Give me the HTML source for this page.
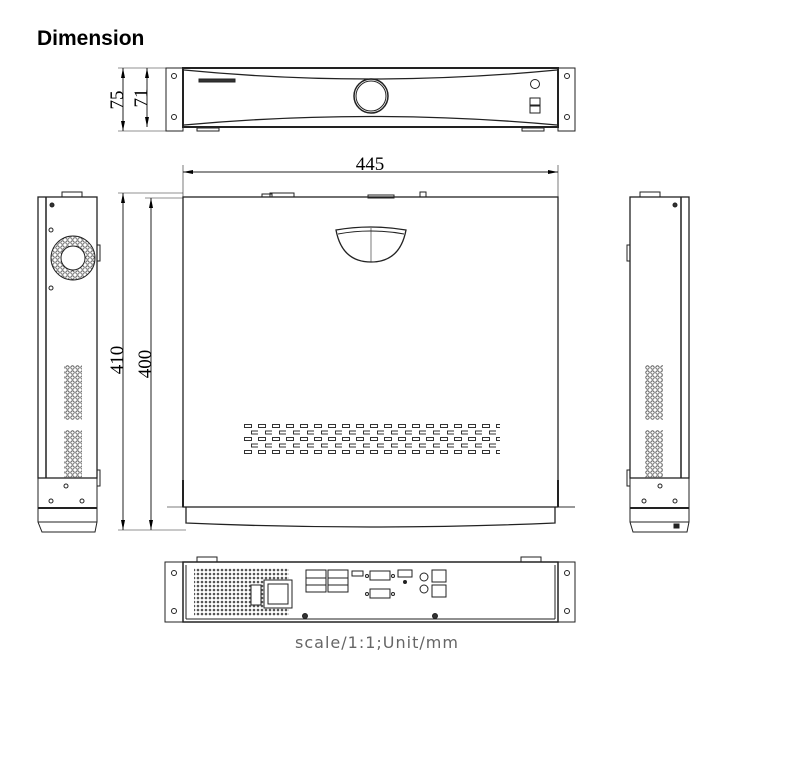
<!DOCTYPE html>
<html><head><meta charset="utf-8"><style>
html,body{margin:0;padding:0;background:#fff;width:812px;height:772px;overflow:hidden}
svg{display:block}
</style></head><body>
<svg width="812" height="772" viewBox="0 0 812 772" xmlns="http://www.w3.org/2000/svg">
<defs>
<pattern id="vent" x="244" y="424" width="14" height="13" patternUnits="userSpaceOnUse">
<rect x="0.5" y="0.5" width="7" height="3" fill="none" stroke="#333" stroke-width="1"/>
<rect x="7.5" y="7" width="7" height="3" fill="none" stroke="#333" stroke-width="1"/>
</pattern>
<pattern id="dots" x="0" y="0" width="5" height="5" patternUnits="userSpaceOnUse">
<circle cx="2.5" cy="2.5" r="1.7" fill="none" stroke="#444" stroke-width="0.8"/>
</pattern>
<pattern id="mesh" x="0" y="0" width="4" height="4" patternUnits="userSpaceOnUse">
<circle cx="2" cy="2" r="1.3" fill="#555"/>
</pattern>
<marker id="ar" viewBox="0 0 10 4" refX="10" refY="2" markerWidth="10" markerHeight="4" orient="auto-start-reverse" markerUnits="userSpaceOnUse"><path d="M0,0 L10,2 L0,4z" fill="#000"/></marker>
</defs>
<text x="37" y="45" font-family="Liberation Sans, sans-serif" font-weight="bold" font-size="21" fill="#000">Dimension</text>

<g fill="none" stroke="#222" stroke-width="1">
<!-- front view -->
<rect x="166" y="68" width="17" height="63"/>
<rect x="558" y="68" width="17" height="63"/>
<circle cx="174" cy="76" r="2.5"/><circle cx="174" cy="117" r="2.5"/>
<circle cx="567" cy="76" r="2.5"/><circle cx="567" cy="117" r="2.5"/>
<rect x="183" y="68" width="375" height="59" stroke-width="2"/>
<path d="M184,70 Q370,88 557,70" stroke-width="1.3"/>
<path d="M184,125 Q370,108 557,125" stroke-width="1.3"/>
<circle cx="371" cy="96" r="17" stroke-width="1.5"/><circle cx="371" cy="96" r="15"/>
<circle cx="535" cy="84" r="4.5"/>
<rect x="530" y="98" width="10" height="7"/><rect x="530" y="106" width="10" height="7"/>
<rect x="199" y="79" width="36" height="3" fill="#333"/>
<rect x="197" y="128" width="22" height="3"/><rect x="522" y="128" width="22" height="3"/>
<!-- front dims -->
<line x1="118" y1="68" x2="166" y2="68" stroke-width="0.6"/>
<line x1="118" y1="131" x2="166" y2="131" stroke-width="0.6"/>
<line x1="123" y1="68" x2="123" y2="131" marker-start="url(#ar)" marker-end="url(#ar)"/>
<line x1="147" y1="68" x2="147" y2="127" marker-start="url(#ar)" marker-end="url(#ar)"/>
<!-- 445 -->
<line x1="183" y1="165" x2="183" y2="197" stroke-width="0.6"/>
<line x1="558" y1="165" x2="558" y2="197" stroke-width="0.6"/>
<line x1="183" y1="172" x2="558" y2="172" marker-start="url(#ar)" marker-end="url(#ar)"/>
<!-- top view -->
<rect x="183" y="197" width="375" height="310" stroke-width="1.3"/>
<path d="M186,507 L186,523 Q370,531 555,523 L555,507" stroke-width="1.3"/>
<line x1="167" y1="507" x2="183" y2="507" stroke-width="0.6"/>
<line x1="558" y1="507" x2="575" y2="507" stroke-width="1.5" stroke="#777"/>
<line x1="183" y1="480" x2="183" y2="507" stroke-width="2"/>
<line x1="558" y1="480" x2="558" y2="507" stroke-width="2"/>
<path d="M336,230 Q370,224 406,230 Q400,262 371,262 Q342,262 336,230Z" stroke-width="1.3"/>
<path d="M338,234 Q370,228 404,234"/>
<line x1="371" y1="228" x2="371" y2="262" stroke-width="0.6"/>
<rect x="262" y="194" width="10" height="3"/><rect x="270" y="193" width="24" height="4"/>
<rect x="368" y="195" width="26" height="3"/><rect x="420" y="192" width="6" height="5"/>
<rect x="244" y="424" width="256" height="31" fill="url(#vent)" stroke="none"/>
<!-- 410/400 dims -->
<line x1="118" y1="193" x2="183" y2="193" stroke-width="0.6"/>
<line x1="118" y1="530" x2="186" y2="530" stroke-width="0.6"/>
<line x1="145" y1="198" x2="183" y2="198" stroke-width="0.6"/>
<line x1="123" y1="193" x2="123" y2="530" marker-start="url(#ar)" marker-end="url(#ar)"/>
<line x1="151" y1="198" x2="151" y2="530" marker-start="url(#ar)" marker-end="url(#ar)"/>

<!-- left side view -->
<rect x="38" y="197" width="59" height="281" stroke-width="1.3"/>
<line x1="46" y1="197" x2="46" y2="478" stroke-width="1.5"/>
<rect x="38" y="478" width="59" height="30"/>
<line x1="38" y1="508" x2="97" y2="508" stroke-width="2"/>
<path d="M38,508 L38,522 L42,532 L95,532 L97,522 L97,508"/>
<line x1="38" y1="522" x2="97" y2="522"/>
<rect x="97" y="245" width="3" height="16"/><rect x="97" y="470" width="3" height="16"/>
<rect x="62" y="192" width="20" height="5"/>
<circle cx="73" cy="258" r="22" fill="url(#dots)"/>
<circle cx="73" cy="258" r="12" fill="#fff"/>
<circle cx="51" cy="230" r="2"/><circle cx="51" cy="288" r="2"/><circle cx="52" cy="205" r="2" fill="#333"/>
<rect x="64" y="365" width="18" height="55" fill="url(#dots)" stroke="none"/>
<rect x="64" y="430" width="18" height="48" fill="url(#dots)" stroke="none"/>
<circle cx="66" cy="486" r="2"/><circle cx="51" cy="501" r="2"/><circle cx="82" cy="501" r="2"/>

<!-- right side view -->
<rect x="630" y="197" width="59" height="281" stroke-width="1.3"/>
<line x1="681" y1="197" x2="681" y2="478" stroke-width="1.5"/>
<rect x="630" y="478" width="59" height="30"/>
<line x1="630" y1="508" x2="689" y2="508" stroke-width="2"/>
<path d="M630,508 L630,522 L633,532 L687,532 L689,522 L689,508"/>
<line x1="630" y1="522" x2="689" y2="522"/>
<rect x="627" y="245" width="3" height="16"/><rect x="627" y="470" width="3" height="16"/>
<rect x="640" y="192" width="20" height="5"/>
<circle cx="675" cy="205" r="2" fill="#333"/>
<rect x="645" y="365" width="18" height="55" fill="url(#dots)" stroke="none"/>
<rect x="645" y="430" width="18" height="48" fill="url(#dots)" stroke="none"/>
<circle cx="660" cy="486" r="2"/><circle cx="644" cy="501" r="2"/><circle cx="675" cy="501" r="2"/>
<rect x="674" y="524" width="5" height="4" fill="#222"/>

<!-- rear view -->
<rect x="165" y="562" width="18" height="60"/>
<rect x="558" y="562" width="17" height="60"/>
<circle cx="174" cy="573" r="2.5"/><circle cx="174" cy="611" r="2.5"/>
<circle cx="567" cy="573" r="2.5"/><circle cx="567" cy="611" r="2.5"/>
<rect x="183" y="562" width="375" height="60" stroke-width="1.5"/>
<line x1="186" y1="565" x2="186" y2="619"/><line x1="555" y1="565" x2="555" y2="619"/>
<line x1="186" y1="619" x2="555" y2="619"/>
<rect x="197" y="557" width="20" height="5"/><rect x="521" y="557" width="20" height="5"/>
<rect x="194" y="568" width="95" height="48" fill="url(#mesh)" stroke="none"/>
<rect x="264" y="580" width="28" height="28" fill="#fff"/>
<rect x="268" y="584" width="20" height="20"/>
<rect x="251" y="585" width="10" height="20" fill="#fff"/>
<rect x="306" y="570" width="20" height="22"/><rect x="328" y="570" width="20" height="22"/>
<line x1="306" y1="578" x2="326" y2="578"/><line x1="328" y1="578" x2="348" y2="578"/>
<line x1="306" y1="585" x2="326" y2="585"/><line x1="328" y1="585" x2="348" y2="585"/>
<rect x="352" y="571" width="11" height="5"/>
<rect x="370" y="571" width="20" height="9"/>
<rect x="370" y="589" width="20" height="9"/>
<circle cx="367" cy="576" r="1.5"/><circle cx="393" cy="576" r="1.5"/>
<circle cx="367" cy="594" r="1.5"/><circle cx="393" cy="594" r="1.5"/>
<rect x="398" y="570" width="14" height="7"/><circle cx="405" cy="582" r="1.5" fill="#222"/>
<circle cx="424" cy="577" r="4"/><circle cx="424" cy="589" r="4"/>
<rect x="432" y="570" width="14" height="12"/><rect x="432" y="585" width="14" height="12"/>
<circle cx="305" cy="616" r="2.5" fill="#333"/><circle cx="435" cy="616" r="2.5" fill="#333"/>
</g>

<g font-family="Liberation Serif, serif" font-size="19" fill="#000">
<text x="370" y="170" text-anchor="middle">445</text>
<text transform="translate(123,100) rotate(-90)" text-anchor="middle">75</text>
<text transform="translate(147,98) rotate(-90)" text-anchor="middle">71</text>
<text transform="translate(123,360) rotate(-90)" text-anchor="middle">410</text>
<text transform="translate(151,364) rotate(-90)" text-anchor="middle">400</text>
</g>
<text x="377" y="648" text-anchor="middle" font-family="DejaVu Sans, sans-serif" font-size="16" fill="#666" letter-spacing="1">scale/1:1;Unit/mm</text>
</svg>
</body></html>
